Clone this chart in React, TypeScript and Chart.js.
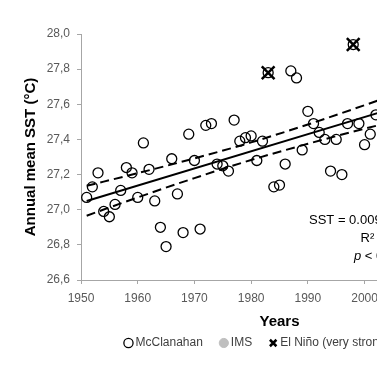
import React, { useEffect, useRef } from 'react';
import { Chart, registerables } from 'chart.js';

Chart.register(...registerables);

// ---- Data ----
const years = [
  1951, 1952, 1953, 1954, 1955, 1956, 1957, 1958, 1959, 1960,
  1961, 1962, 1963, 1964, 1965, 1966, 1967, 1968, 1969, 1970,
  1971, 1972, 1973, 1974, 1975, 1976, 1977, 1978, 1979, 1980,
  1981, 1982, 1983, 1984, 1985, 1986, 1987, 1988, 1989, 1990,
  1991, 1992, 1993, 1994, 1995, 1996, 1997, 1998, 1999, 2000,
  2001, 2002,
];
const mcclanahanSST = [
  27.07, 27.13, 27.21, 26.99, 26.96, 27.03, 27.11, 27.24, 27.21, 27.07,
  27.38, 27.23, 27.05, 26.9, 26.79, 27.29, 27.09, 26.87, 27.43, 27.28,
  26.89, 27.48, 27.49, 27.26, 27.25, 27.22, 27.51, 27.39, 27.41, 27.42,
  27.28, 27.39, 27.78, 27.13, 27.14, 27.26, 27.79, 27.75, 27.34, 27.56,
  27.49, 27.44, 27.4, 27.22, 27.4, 27.2, 27.49, 27.94, 27.49, 27.37,
  27.43, 27.54,
];
const imsYears: number[] = [];
const imsSST: number[] = [];
const elNinoYears = [1983, 1998];
const elNinoSST = [27.78, 27.94];

const trendYears = [1951, 2010];
const trendSST = [27.05, 27.625];
const bandYears = [1951, 1960, 1970, 1980, 1990, 2000, 2010];
const bandUpper = [27.136, 27.208, 27.292, 27.383, 27.485, 27.595, 27.71];
const bandLower = [26.966, 27.07, 27.18, 27.283, 27.375, 27.461, 27.54];

const xTickValues = [1950, 1960, 1970, 1980, 1990, 2000, 2010, 2020];
const yTickValues = [26.6, 26.8, 27.0, 27.2, 27.4, 27.6, 27.8, 28.0];

const legendLabels = ['McClanahan', 'IMS', 'El Niño (very strong)'];
const xTitle = 'Years';
const yTitle = 'Annual mean SST (°C)';
const equationText = 'SST = 0.0097x + 8.07';
const r2Text = 'R² = 0.35';
const pSymbol = 'p';
const pText = ' < 0.001';

const FONT = "'Liberation Sans', Arial, sans-serif";
const AXIS_GRAY = '#a6a6a6';
const TICK_TEXT = '#595959';

const pts = (xs: number[], ys: number[]) => xs.map((x, i) => ({ x, y: ys[i] }));

const annotationPlugin = {
  id: 'statText',
  afterDraw(chart: any) {
    const { ctx, chartArea } = chart;
    ctx.save();
    ctx.fillStyle = '#000';
    ctx.textBaseline = 'middle';
    ctx.textAlign = 'left';
    ctx.font = `13px ${FONT}`;
    ctx.fillText(equationText, chartArea.left + 228, chartArea.top + 186);
    ctx.fillText(r2Text, chartArea.left + 279.5, chartArea.top + 204);
    ctx.font = `italic 13px ${FONT}`;
    const px = chartArea.left + 273;
    ctx.fillText(pSymbol, px, chartArea.top + 222);
    const w = ctx.measureText(pSymbol).width;
    ctx.font = `13px ${FONT}`;
    ctx.fillText(pText, px + w, chartArea.top + 222);
    ctx.restore();
  },
};

export default function App() {
  const ref = useRef<HTMLCanvasElement>(null);

  useEffect(() => {
    if (!ref.current) return;
    const chart = new Chart(ref.current, {
      type: 'scatter',
      data: {
        datasets: [
          {
            label: legendLabels[2],
            data: pts(elNinoYears, elNinoSST),
            pointStyle: 'crossRot',
            pointRadius: 9,
            borderColor: '#000',
            backgroundColor: '#000',
            borderWidth: 2.5,
          },
          {
            label: legendLabels[0],
            data: pts(years, mcclanahanSST),
            pointStyle: 'circle',
            pointRadius: 5,
            borderColor: '#000',
            backgroundColor: 'rgba(0,0,0,0)',
            borderWidth: 1.3,
          },
          {
            label: legendLabels[1],
            data: pts(imsYears, imsSST),
            pointStyle: 'circle',
            pointRadius: 5,
            borderColor: '#bfbfbf',
            backgroundColor: '#bfbfbf',
            borderWidth: 1,
          },
          {
            label: 'trend',
            data: pts(trendYears, trendSST),
            showLine: true,
            pointRadius: 0,
            borderColor: '#000',
            borderWidth: 2,
            fill: false,
          },
          {
            label: 'upper',
            data: pts(bandYears, bandUpper),
            showLine: true,
            pointRadius: 0,
            borderColor: '#000',
            borderWidth: 2,
            borderDash: [9, 5],
            cubicInterpolationMode: 'monotone',
            fill: false,
          },
          {
            label: 'lower',
            data: pts(bandYears, bandLower),
            showLine: true,
            pointRadius: 0,
            borderColor: '#000',
            borderWidth: 2,
            borderDash: [9, 5],
            cubicInterpolationMode: 'monotone',
            fill: false,
          },
        ],
      },
      options: {
        animation: false,
        responsive: false,
        devicePixelRatio: 1,
        layout: { padding: { top: 34, left: 0, right: 0, bottom: 14 } },
        plugins: {
          tooltip: { enabled: false },
          legend: {
            position: 'bottom',
            labels: {
              usePointStyle: true,
              boxWidth: 2,
              boxHeight: 6.5,
              padding: 10,
              color: '#404040',
              font: { family: FONT, size: 12 },
              generateLabels: (c: any) => {
                const items = Chart.defaults.plugins.legend.labels.generateLabels(c);
                const order = [legendLabels[0], legendLabels[1], legendLabels[2]];
                return order
                  .map((name) => items.find((it: any) => it.text === name))
                  .filter(Boolean)
                  .map((it: any, i: number, arr: any[]) => ({
                    ...it,
                    text: i < arr.length - 1 ? it.text + '   ' : it.text,
                  }));
              },
            },
          },
        },
        scales: {
          x: {
            type: 'linear',
            position: 'bottom',
            min: 1950,
            max: 2020,
            afterBuildTicks: (s: any) => {
              s.ticks = xTickValues.map((v) => ({ value: v }));
            },
            afterFit: (s: any) => {
              s.height = 47;
            },
            ticks: {
              color: TICK_TEXT,
              font: { family: FONT, size: 12 },
              padding: 7,
              maxRotation: 0,
              autoSkip: false,
              callback: (v: any) => String(v),
            },
            grid: { display: true, drawOnChartArea: false, drawTicks: true, tickLength: 4, color: AXIS_GRAY },
            border: { display: true, color: AXIS_GRAY, width: 1 },
            title: {
              display: true,
              text: xTitle,
              color: '#000',
              font: { family: FONT, size: 15, weight: 'bold' },
              padding: { top: 0, bottom: -4 },
            },
          },
          y: {
            type: 'linear',
            position: 'left',
            min: 26.6,
            max: 28.0,
            afterBuildTicks: (s: any) => {
              s.ticks = yTickValues.map((v) => ({ value: v }));
            },
            afterFit: (s: any) => {
              s.width = 81;
            },
            ticks: {
              color: TICK_TEXT,
              font: { family: FONT, size: 12 },
              padding: 7,
              callback: (v: any) => Number(v).toFixed(1).replace('.', ','),
            },
            grid: { display: true, drawOnChartArea: false, drawTicks: true, tickLength: 4, color: AXIS_GRAY },
            border: { display: true, color: AXIS_GRAY, width: 1 },
            title: {
              display: true,
              text: yTitle,
              color: '#000',
              font: { family: FONT, size: 15, weight: 'bold' },
              padding: { top: 22, bottom: 0 },
            },
          },
          spacer: {
            type: 'linear',
            position: 'right',
            display: true,
            ticks: { display: false },
            grid: { display: false, drawTicks: false },
            border: { display: false },
            afterFit: (s: any) => {
              s.width = 39;
            },
          },
        },
      } as any,
      plugins: [annotationPlugin],
    });
    return () => chart.destroy();
  }, []);

  return (
    <div
      style={{
        position: 'fixed',
        left: 0,
        top: 0,
        width: 377,
        height: 373,
        overflow: 'hidden',
        background: '#fff',
      }}
    >
      <canvas ref={ref} width={517} height={373} style={{ display: 'block', width: 517, height: 373 }} />
    </div>
  );
}
